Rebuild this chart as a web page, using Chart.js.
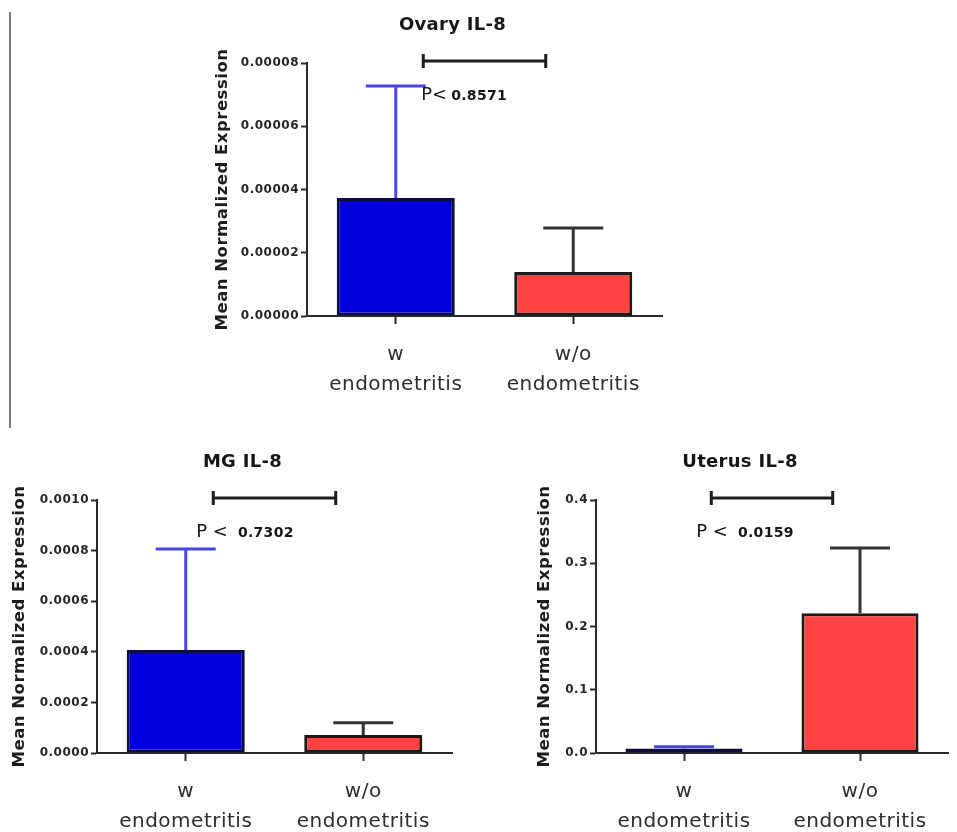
<!DOCTYPE html>
<html>
<head>
<meta charset="utf-8">
<script src="https://cdn.jsdelivr.net/npm/chart.js@4.4.1/dist/chart.umd.min.js"></script>
<style>
  html, body { margin: 0; padding: 0; background: #fff; }
  body { width: 957px; height: 832px; position: relative; overflow: hidden; }
  canvas { position: absolute; }
  .rule { position: absolute; left: 9px; top: 12px; width: 2px; height: 416px; background: #7a7a7a; }
</style>
</head>
<body>
<div class="rule"></div>
<canvas id="ovary" width="480" height="410" style="left:200px;top:0"></canvas>
<canvas id="mg" width="470" height="412" style="left:0;top:420px"></canvas>
<canvas id="uterus" width="467" height="412" style="left:490px;top:420px"></canvas>

<script>
/* ── DATA ── */
const groups = [['w', 'endometritis'], ['w/o', 'endometritis']];

const ovaryMean = [0.0000373, 0.0000139];
const ovaryErr = [0.0000354, 0.0000139];
const ovaryTicks = [0, 0.00002, 0.00004, 0.00006, 0.00008];
const ovaryTickLabels = ['0.00000', '0.00002', '0.00004', '0.00006', '0.00008'];

const mgMean = [0.000407, 0.0000711];
const mgErr = [0.000399, 0.000048];
const mgTicks = [0, 0.0002, 0.0004, 0.0006, 0.0008, 0.0010];
const mgTickLabels = ['0.0000', '0.0002', '0.0004', '0.0006', '0.0008', '0.0010'];

const uterusMean = [0.007, 0.221];
const uterusErr = [0.003, 0.103];
const uterusTicks = [0, 0.1, 0.2, 0.3, 0.4];
const uterusTickLabels = ['0.0', '0.1', '0.2', '0.3', '0.4'];

/* ── STYLE ── */
const FONT = 'DejaVu Sans';
const AXIS = '#2a2a2a';
const barFill = ['#0000dd', '#ff4242'];
const barEdge = ['#0c0c40', '#1a1a1a'];
const errColor = ['#4646e6', '#333'];

function panelPlugin(p) {
  return {
    id: 'panelDeco',
    beforeDraw(chart) {
      chart.ctx.letterSpacing = '0.5px';
    },
    afterDatasetsDraw(chart) {
      const ctx = chart.ctx, y = chart.scales.y;
      const meta = chart.getDatasetMeta(0);
      ctx.save();
      ctx.lineWidth = 3;
      meta.data.forEach((bar, i) => {
        const top = y.getPixelForValue(p.mean[i] + p.err[i]);
        ctx.strokeStyle = errColor[i];
        ctx.beginPath();
        ctx.moveTo(bar.x, bar.y);
        ctx.lineTo(bar.x, top);
        ctx.moveTo(bar.x - 30, top);
        ctx.lineTo(bar.x + 30, top);
        ctx.stroke();
      });
      ctx.restore();
      // x labels are drawn after this (x scale z = 1)
      ctx.letterSpacing = '1.5px';
    },
    afterDraw(chart) {
      const ctx = chart.ctx, a = chart.chartArea, x = chart.scales.x;
      ctx.save();
      // title
      ctx.fillStyle = '#161616';
      ctx.font = 'bold 18px "' + FONT + '"';
      ctx.letterSpacing = '0.3px';
      ctx.textAlign = 'center';
      ctx.textBaseline = 'middle';
      ctx.fillText(p.title, (a.left + a.right) / 2 - 32, a.top - 38);

      // bracket
      const x1 = x.getPixelForValue(0.155), x2 = x.getPixelForValue(0.845);
      const by = a.top - 2;
      ctx.strokeStyle = '#1e1e1e';
      ctx.lineWidth = 3;
      ctx.beginPath();
      ctx.moveTo(x1, by); ctx.lineTo(x2, by);
      ctx.moveTo(x1, by - 7); ctx.lineTo(x1, by + 7);
      ctx.moveTo(x2, by - 7); ctx.lineTo(x2, by + 7);
      ctx.stroke();

      // p value
      ctx.textAlign = 'left';
      ctx.font = '18px "' + FONT + '"';
      ctx.letterSpacing = '0px';
      const px = x1 + p.pOffset, py = a.top + 32;
      ctx.fillText(p.pSym, px, py);
      const w = ctx.measureText(p.pSym).width;
      ctx.font = 'bold 14px "' + FONT + '"';
      ctx.letterSpacing = '0.3px';
      ctx.fillText(p.pVal, px + w + p.pGap, py + 1);
      ctx.restore();
    }
  };
}

function makePanel(id, p) {
  return new Chart(document.getElementById(id), {
    type: 'bar',
    data: {
      labels: groups,
      datasets: [{
        data: p.mean,
        backgroundColor: barFill,
        borderColor: barEdge,
        borderWidth: 3,
        borderSkipped: false,
        barPercentage: 0.665,
        categoryPercentage: 1
      }]
    },
    options: {
      responsive: false,
      animation: false,
      layout: { padding: { left: 0, top: p.padTop, right: p.padRight, bottom: 0 } },
      plugins: { legend: { display: false }, tooltip: { enabled: false } },
      scales: {
        x: {
          z: 1,
          offset: true,
          grid: { drawOnChartArea: false, offset: false, tickLength: 8, tickWidth: 2, tickColor: AXIS },
          border: { color: AXIS, width: 2 },
          ticks: {
            font: { family: FONT, size: 20, lineHeight: 1.5 },
            color: '#2e2e2e', padding: 16, maxRotation: 0, autoSkip: false
          },
          afterFit(s) { s.height = p.xHeight; }
        },
        y: {
          min: 0,
          max: p.ticks[p.ticks.length - 1],
          afterBuildTicks(s) { s.ticks = p.ticks.map(v => ({ value: v })); },
          grid: { drawOnChartArea: false, tickLength: 6, tickWidth: 2, tickColor: AXIS },
          border: { color: AXIS, width: 2 },
          ticks: {
            font: { family: FONT, size: 12, weight: 'bold' },
            color: '#262626', padding: 2,
            callback: (v, i) => p.tickLabels[i]
          },
          title: {
            display: true, text: 'Mean Normalized Expression', color: '#1c1c1c',
            font: { family: FONT, size: 16.5, weight: 'bold' },
            padding: { top: p.titlePad, bottom: 0 }
          },
          afterFit(s) { s.width = p.yWidth; }
        }
      }
    },
    plugins: [panelPlugin(p)]
  });
}

makePanel('ovary', {
  title: 'Ovary IL-8', mean: ovaryMean, err: ovaryErr,
  ticks: ovaryTicks, tickLabels: ovaryTickLabels,
  yWidth: 107, padTop: 63, padRight: 18, xHeight: 94, titlePad: 13,
  pSym: 'P<', pVal: '0.8571', pOffset: -2, pGap: 4
});

makePanel('mg', {
  title: 'MG IL-8', mean: mgMean, err: mgErr,
  ticks: mgTicks, tickLabels: mgTickLabels,
  yWidth: 97, padTop: 80, padRight: 18, xHeight: 79, titlePad: 10,
  pSym: 'P <', pVal: '0.7302', pOffset: -17, pGap: 10
});

makePanel('uterus', {
  title: 'Uterus IL-8', mean: uterusMean, err: uterusErr,
  ticks: uterusTicks, tickLabels: uterusTickLabels,
  yWidth: 106, padTop: 80, padRight: 9, xHeight: 79, titlePad: 45,
  pSym: 'P <', pVal: '0.0159', pOffset: -15, pGap: 10
});
</script>
</body>
</html>
